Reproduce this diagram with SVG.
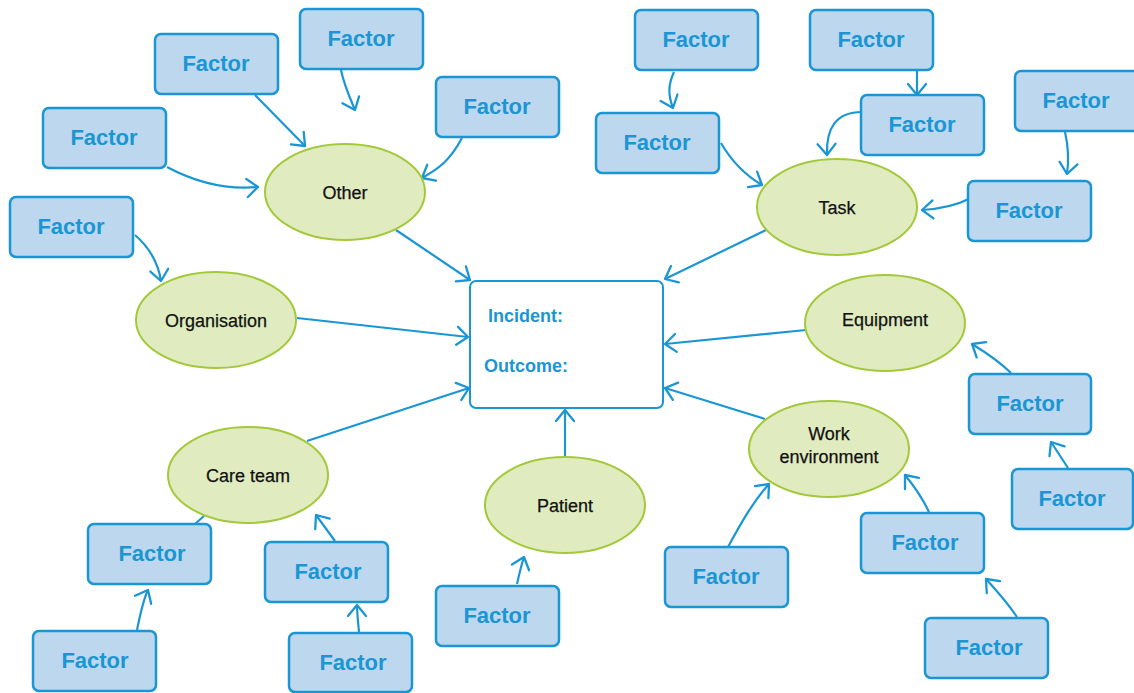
<svg xmlns="http://www.w3.org/2000/svg" width="1134" height="693" viewBox="0 0 1134 693">
<style>
.f rect{fill:#bdd7ee;stroke:#1a96d4;stroke-width:2.5}
.f text{font-family:"Liberation Sans",Arial,sans-serif;font-weight:bold;font-size:22px;fill:#1a96d4;text-anchor:middle}
.e ellipse{fill:#e0ecc0;stroke:#a3c93a;stroke-width:2}
.e text{font-family:"Liberation Sans",Arial,sans-serif;font-size:18px;fill:#111;text-anchor:middle;stroke:#111;stroke-width:0.25}
.c path{fill:none;stroke:#1a96d4;stroke-width:2.2;marker-end:url(#ah)}
.c path.n{marker-end:none}
.b text{font-family:"Liberation Sans",Arial,sans-serif;font-weight:bold;font-size:18px;fill:#1a96d4}
</style>
<defs>
<marker id="ah" markerUnits="userSpaceOnUse" markerWidth="26" markerHeight="26" viewBox="-13 -13 26 26" refX="0" refY="0" orient="auto">
<path d="M-11,-9 L0,0 L-11,9" fill="none" stroke="#1a96d4" stroke-width="2.3" stroke-linejoin="round" stroke-linecap="round"/>
</marker>
</defs>
<rect width="1134" height="693" fill="#fff"/>
<g id="connectors" class="c">
<path d="M341,70 C344,85 350,98 355,110"/>
<path d="M255,95 L305,146"/>
<path d="M167,167 C195,182 225,190 258,187"/>
<path d="M462,138 C450,160 440,168 422,178"/>
<path d="M135,235 C150,248 158,262 161,281"/>
<path d="M396,230 L470,280"/>
<path d="M297,318 L468,337"/>
<path d="M307,441 L469,388"/>
<path d="M565,457 L565,410"/>
<path d="M766,230 L665,279"/>
<path d="M806,330 L665,344"/>
<path d="M765,419 L665,388"/>
<path d="M674,72 C668,85 668,95 673,108"/>
<path d="M917,71 L917,95"/>
<path d="M862,112 C836,112 826,128 827,155"/>
<path d="M721,143 C732,162 745,175 762,185"/>
<path d="M1065,132 C1068,145 1069,160 1067,174"/>
<path d="M971,198 C955,206 940,209 922,210"/>
<path class="n" d="M195,524 L204,516"/>
<path d="M137,630 C140,615 143,600 148,590"/>
<path d="M335,541 L316,515"/>
<path d="M359,632 C358,622 357,612 357,605"/>
<path d="M517,584 C519,575 521,566 524,557"/>
<path d="M728,547 C740,525 752,503 769,484"/>
<path d="M929,512 C922,497 914,486 905,475"/>
<path d="M1017,617 C1007,602 996,590 986,579"/>
<path d="M1011,373 C998,360 985,352 972,344"/>
<path d="M1068,468 L1051,442"/>
</g>
<g id="incident" class="b">
<rect x="470" y="281" width="193" height="127" rx="6" fill="#fff" stroke="#1a96d4" stroke-width="2"/>
<text x="488" y="322">Incident:</text>
<text x="484" y="372">Outcome:</text>
</g>
<g id="other" class="e"><ellipse cx="345" cy="192" rx="80" ry="48"/><text x="345" y="199">Other</text></g>
<g id="organisation" class="e"><ellipse cx="216" cy="320" rx="80" ry="48"/><text x="216" y="327">Organisation</text></g>
<g id="careteam" class="e"><ellipse cx="248" cy="475" rx="80" ry="48"/><text x="248" y="482">Care team</text></g>
<g id="patient" class="e"><ellipse cx="565" cy="505" rx="80" ry="48"/><text x="565" y="512">Patient</text></g>
<g id="task" class="e"><ellipse cx="837" cy="207" rx="80" ry="48"/><text x="837" y="214">Task</text></g>
<g id="equipment" class="e"><ellipse cx="885" cy="323" rx="80" ry="48"/><text x="885" y="326">Equipment</text></g>
<g id="workenv" class="e"><ellipse cx="829" cy="449" rx="80" ry="48"/><text x="829" y="440">Work</text><text x="829" y="463">environment</text></g>
<g id="fA" class="f"><rect x="300" y="9" width="123" height="60" rx="6"/><text x="361" y="46">Factor</text></g>
<g id="fB" class="f"><rect x="155" y="34" width="123" height="60" rx="6"/><text x="216" y="71">Factor</text></g>
<g id="fC" class="f"><rect x="43" y="108" width="123" height="60" rx="6"/><text x="104" y="145">Factor</text></g>
<g id="fD" class="f"><rect x="436" y="77" width="123" height="60" rx="6"/><text x="497" y="114">Factor</text></g>
<g id="fE" class="f"><rect x="10" y="197" width="123" height="60" rx="6"/><text x="71" y="234">Factor</text></g>
<g id="fF" class="f"><rect x="635" y="10" width="123" height="60" rx="6"/><text x="696" y="47">Factor</text></g>
<g id="fG" class="f"><rect x="810" y="10" width="123" height="60" rx="6"/><text x="871" y="47">Factor</text></g>
<g id="fH" class="f"><rect x="596" y="113" width="123" height="60" rx="6"/><text x="657" y="150">Factor</text></g>
<g id="fI" class="f"><rect x="861" y="95" width="123" height="60" rx="6"/><text x="922" y="132">Factor</text></g>
<g id="fJ" class="f"><rect x="1015" y="71" width="124" height="60" rx="6"/><text x="1076" y="108">Factor</text></g>
<g id="fK" class="f"><rect x="968" y="181" width="123" height="60" rx="6"/><text x="1029" y="218">Factor</text></g>
<g id="fL" class="f"><rect x="88" y="524" width="123" height="60" rx="6"/><text x="152" y="561">Factor</text></g>
<g id="fM" class="f"><rect x="33" y="631" width="123" height="60" rx="6"/><text x="95" y="668">Factor</text></g>
<g id="fN" class="f"><rect x="265" y="542" width="123" height="60" rx="6"/><text x="328" y="579">Factor</text></g>
<g id="fO" class="f"><rect x="289" y="633" width="123" height="59" rx="6"/><text x="353" y="670">Factor</text></g>
<g id="fP" class="f"><rect x="436" y="586" width="123" height="60" rx="6"/><text x="497" y="623">Factor</text></g>
<g id="fQ" class="f"><rect x="665" y="547" width="123" height="60" rx="6"/><text x="726" y="584">Factor</text></g>
<g id="fR" class="f"><rect x="861" y="513" width="123" height="60" rx="6"/><text x="925" y="550">Factor</text></g>
<g id="fS" class="f"><rect x="969" y="374" width="122" height="60" rx="6"/><text x="1030" y="411">Factor</text></g>
<g id="fT" class="f"><rect x="1012" y="469" width="121" height="60" rx="6"/><text x="1072" y="506">Factor</text></g>
<g id="fU" class="f"><rect x="925" y="618" width="123" height="60" rx="6"/><text x="989" y="655">Factor</text></g>
</svg>
